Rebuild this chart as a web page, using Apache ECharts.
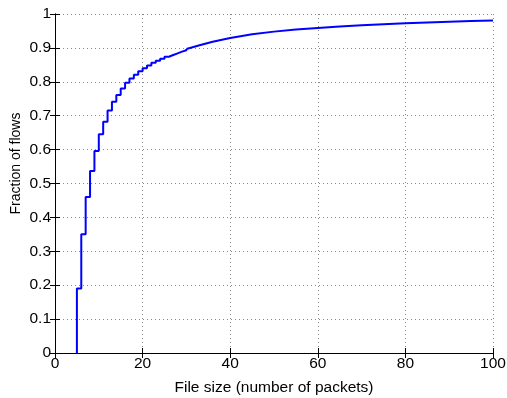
<!DOCTYPE html>
<html>
<head>
<meta charset="utf-8">
<script src="https://cdn.jsdelivr.net/npm/echarts@6/dist/echarts.min.js"></script>
<style>html,body{margin:0;padding:0;background:#fff;}#c{width:507px;height:398px;}</style>
</head>
<body>
<div id="c"></div>
<script>
// Step part of the CDF (integer file sizes)
const stepX = [5, 5, 6, 7, 8, 9, 10, 11, 12, 13, 14, 15, 16, 17, 18, 19, 20, 21, 22, 23, 24, 25, 26, 27, 28, 29, 30];
const stepY = [0, 0.19, 0.35, 0.46, 0.537, 0.596, 0.645, 0.682, 0.715, 0.741, 0.761, 0.780, 0.797, 0.810, 0.821, 0.831, 0.840, 0.848, 0.856, 0.862, 0.868, 0.874, 0.879, 0.884, 0.889, 0.893, 0.897];
// Tail of the CDF (steps are sub-pixel here)
const tailX = [30, 33, 36, 40, 45, 50, 55, 60, 65, 70, 75, 80, 85, 90, 95, 100];
const tailY = [0.897, 0.908, 0.918, 0.929, 0.940, 0.948, 0.954, 0.959, 0.963, 0.967, 0.970, 0.973, 0.975, 0.977, 0.979, 0.981];
const xTicks = [0, 20, 40, 60, 80, 100];
const yTicks = [0, 0.1, 0.2, 0.3, 0.4, 0.5, 0.6, 0.7, 0.8, 0.9, 1];

const font = 'Liberation Sans, Arial, sans-serif';
const chart = echarts.init(document.getElementById('c'), null, {renderer: 'canvas'});
const axLine = {show: true, lineStyle: {color: '#000', width: 1}};
const tickIn = {show: true, inside: true, length: 5, lineStyle: {color: '#000', width: 1}};
const gridLine = {show: true, lineStyle: {color: '#888', type: [1, 3], width: 1}};
chart.setOption({
  animation: false,
  backgroundColor: '#fff',
  grid: {left: 55, right: 14, top: 14, bottom: 45, containLabel: false, outerBoundsMode: 'none'},
  xAxis: [{
    type: 'value', min: 0, max: 100, interval: 20,
    axisLine: axLine, axisTick: tickIn, splitLine: gridLine,
    axisLabel: {color: '#000', fontSize: 15.5, fontFamily: font, margin: 3,
      formatter: v => xTicks.includes(v) ? String(v) : ''},
    name: 'File size (number of packets)', nameLocation: 'middle', nameGap: 27,
    nameTextStyle: {color: '#000', fontSize: 15.5, fontFamily: font}
  }, {
    type: 'value', position: 'top', min: 0, max: 100, interval: 20,
    axisLine: axLine, axisTick: tickIn, splitLine: {show: false}, axisLabel: {show: false}
  }],
  yAxis: [{
    type: 'value', min: 0, max: 1, interval: 0.1,
    axisLine: axLine, axisTick: tickIn, splitLine: gridLine,
    axisLabel: {color: '#000', fontSize: 15.5, fontFamily: font, margin: 4,
      formatter: v => {
        const t = yTicks.find(y => Math.abs(y - v) < 1e-6);
        return t === undefined ? '' : String(t);
      }},
    name: 'Fraction of flows', nameLocation: 'middle', nameGap: 32, nameRotate: 90,
    nameMoveOverlap: false,
    nameTextStyle: {color: '#000', fontSize: 14, fontFamily: font, padding: [0, 0, 0, 40]}
  }, {
    type: 'value', position: 'right', min: 0, max: 1, interval: 0.1,
    axisLine: axLine, axisTick: tickIn, splitLine: {show: false}, axisLabel: {show: false}
  }],
  series: [{
    type: 'line', step: 'end', showSymbol: false, symbol: 'none',
    data: stepX.map((x, i) => [x, stepY[i]]),
    lineStyle: {color: '#0000ff', width: 2}, itemStyle: {color: '#0000ff'}
  }, {
    type: 'line', smooth: false, showSymbol: false, symbol: 'none',
    data: tailX.map((x, i) => [x, tailY[i]]),
    lineStyle: {color: '#0000ff', width: 2, join: 'round'}, itemStyle: {color: '#0000ff'}
  }]
});
</script>
</body>
</html>
